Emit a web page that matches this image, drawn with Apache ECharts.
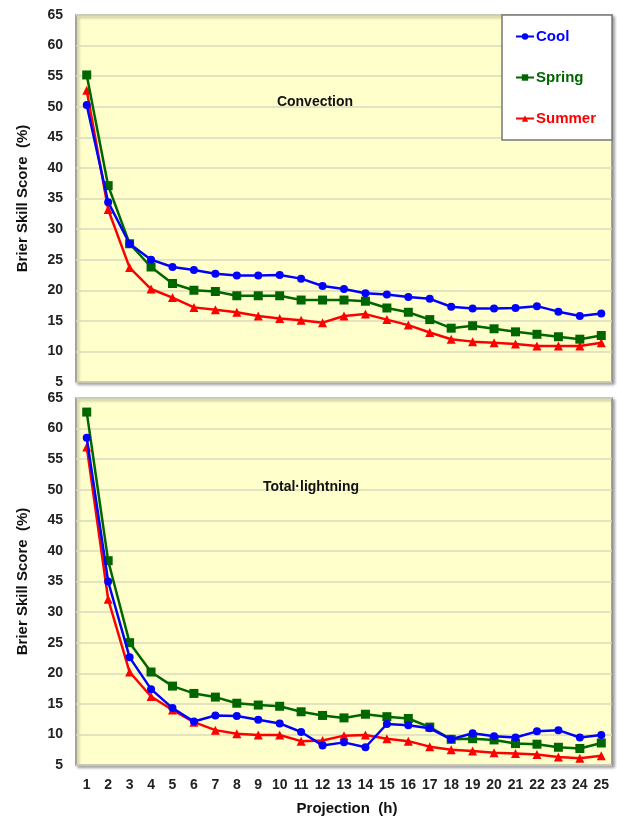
<!DOCTYPE html>
<html>
<head>
<meta charset="utf-8">
<script src="https://cdn.jsdelivr.net/npm/echarts@6/dist/echarts.min.js"></script>
<style>
html,body{margin:0;padding:0;background:#fff;}
#c{width:617px;height:818px;}
</style>
</head>
<body>
<div id="c"></div>
<script>
var categories = ['1','2','3','4','5','6','7','8','9','10','11','12','13','14','15','16','17','18','19','20','21','22','23','24','25'];
var yTicks = [5,10,15,20,25,30,35,40,45,50,55,60,65];

var convCool   = [50.3,34.4,27.6,25.0,23.8,23.3,22.7,22.4,22.4,22.5,21.9,20.7,20.2,19.5,19.3,18.9,18.6,17.3,17.0,17.0,17.1,17.4,16.5,15.8,16.2];
var convSpring = [55.2,37.1,27.6,23.8,21.1,20.0,19.8,19.1,19.1,19.1,18.4,18.4,18.4,18.2,17.1,16.4,15.2,13.8,14.2,13.7,13.2,12.8,12.4,12.0,12.6];
var convSummer = [52.7,33.2,23.7,20.2,18.8,17.2,16.8,16.4,15.8,15.4,15.1,14.7,15.8,16.1,15.2,14.3,13.1,12.0,11.6,11.4,11.2,10.9,10.9,10.9,11.4];

var ltgCool   = [58.5,35.0,22.6,17.4,14.3,12.1,13.1,13.0,12.4,11.8,10.4,8.2,8.7,7.9,11.7,11.5,11.0,9.2,10.2,9.7,9.5,10.5,10.7,9.5,9.9];
var ltgSpring = [62.7,38.4,25.0,20.2,17.9,16.7,16.1,15.1,14.8,14.6,13.7,13.1,12.7,13.3,12.9,12.6,11.2,9.2,9.3,9.1,8.5,8.4,7.9,7.7,8.6];
var ltgSummer = [57.0,32.1,20.2,16.2,14.0,12.0,10.7,10.1,9.9,9.9,8.9,9.0,9.8,9.9,9.3,8.9,8.0,7.5,7.3,7.0,6.9,6.7,6.3,6.1,6.5];

var seriesNames = ['Cool','Spring','Summer'];
var colors = {Cool:'#0000FF', Spring:'#006600', Summer:'#FF0000'};
var symbols = {Cool:'circle', Spring:'rect', Summer:'triangle'};
var symSizes = {Cool:8, Spring:9, Summer:9};

var FONT = '"Liberation Sans", Arial, sans-serif';

function mkSeries(name, data, idx){
  return {
    name: name, type: 'line', data: data,
    xAxisIndex: idx, yAxisIndex: idx,
    symbol: symbols[name], symbolSize: symSizes[name],
    showAllSymbol: true,
    lineStyle: {color: colors[name], width: 2.5},
    itemStyle: {color: colors[name]},
    z: name === 'Cool' ? 5 : (name === 'Spring' ? 4 : 3),
    animation: false
  };
}

function yAxisCfg(idx){
  return {
    type: 'value', gridIndex: idx, min: 5, max: 65, interval: 5,
    name: 'Brier Skill Score  (%)', nameLocation: 'middle', nameGap: 46,
    nameTextStyle: {fontFamily: FONT, fontWeight: 'bold', fontSize: 15, color: '#111'},
    axisLine: {show: false},
    axisTick: {show: false},
    axisLabel: {fontFamily: FONT, fontWeight: 'bold', fontSize: 14, color: '#222', margin: 13},
    splitLine: {show: true, lineStyle: {color: '#DAD8BE', width: 1.5}}
  };
}

function xAxisCfg(idx, showLabels){
  return {
    type: 'category', gridIndex: idx, data: categories, boundaryGap: true,
    axisLine: {show: false},
    axisTick: {show: false},
    axisLabel: {show: showLabels, interval: 0, fontFamily: FONT, fontWeight: 'bold', fontSize: 14, color: '#222', margin: 13},
    splitLine: {show: false}
  };
}

var gridBase = {
  left: 76, right: 5, height: 367, show: true,
  backgroundColor: '#FFFFCC', borderColor: '#8A8A8A', borderWidth: 1.5,
  shadowColor: 'rgba(0,0,0,0.35)', shadowBlur: 3, shadowOffsetX: 2, shadowOffsetY: 2
};

var chart = echarts.init(document.getElementById('c'));
chart.setOption({
  animation: false,
  backgroundColor: '#ffffff',
  grid: [
    Object.assign({}, gridBase, {top: 15}),
    Object.assign({}, gridBase, {top: 398})
  ],
  xAxis: [xAxisCfg(0, false), xAxisCfg(1, true)],
  yAxis: [yAxisCfg(0), yAxisCfg(1)],
  legend: {
    orient: 'vertical', left: 502, top: 15,
    backgroundColor: '#ffffff', borderColor: '#777', borderWidth: 1.5,
    padding: [14, 16, 14, 13], itemGap: 26, itemWidth: 18, itemHeight: 8,
    textStyle: {fontFamily: FONT, fontWeight: 'bold', fontSize: 15, padding: [0, 0, 0, -3]},
    data: seriesNames.map(function(n){ return {name: n, textStyle: {color: colors[n]}}; }),
    selectedMode: false
  },
  title: [
    {text: 'Convection', left: 310, top: 90, textAlign: 'center',
     textStyle: {fontFamily: FONT, fontWeight: 'bold', fontSize: 14, color: '#111'}},
    {text: 'Total·lightning', left: 306, top: 475, textAlign: 'center',
     textStyle: {fontFamily: FONT, fontWeight: 'bold', fontSize: 14, color: '#111'}},
    {text: 'Projection  (h)', left: 342, top: 796, textAlign: 'center',
     textStyle: {fontFamily: FONT, fontWeight: 'bold', fontSize: 15, color: '#111'}}
  ],
  series: [
    mkSeries('Cool', convCool, 0),
    mkSeries('Spring', convSpring, 0),
    mkSeries('Summer', convSummer, 0),
    mkSeries('Cool', ltgCool, 1),
    mkSeries('Spring', ltgSpring, 1),
    mkSeries('Summer', ltgSummer, 1)
  ]
});
</script>
</body>
</html>
